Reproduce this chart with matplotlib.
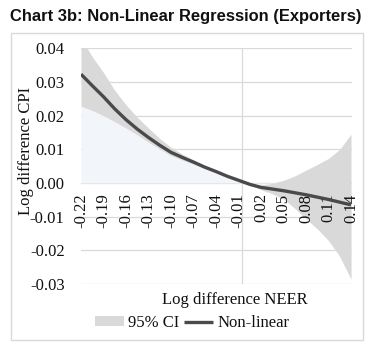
import matplotlib
matplotlib.use("Agg")
import matplotlib.pyplot as plt
from matplotlib.patches import Rectangle

# ---- data ----
neer = [-0.220, -0.205, -0.190, -0.175, -0.160, -0.145, -0.130, -0.115, -0.100,
        -0.085, -0.070, -0.055, -0.040, -0.025, -0.010, 0.005, 0.020, 0.035,
        0.050, 0.065, 0.080, 0.095, 0.110, 0.125, 0.140]
nonlinear = [0.0323, 0.0289, 0.0256, 0.0220, 0.0188, 0.0160, 0.0135, 0.0112, 0.0091,
             0.0076, 0.0062, 0.0047, 0.0034, 0.0020, 0.0008, -0.0004, -0.0013, -0.0018,
             -0.0023, -0.0029, -0.0035, -0.0042, -0.0049, -0.0057, -0.0065]
ci_upper = [0.0430, 0.0375, 0.0328, 0.0275, 0.0232, 0.0195, 0.0163, 0.0132, 0.0106,
            0.0086, 0.0068, 0.0051, 0.0037, 0.0022, 0.0009, -0.0002, -0.0007, -0.0001,
            0.0008, 0.0021, 0.0038, 0.0055, 0.0073, 0.0100, 0.0145]
ci_lower = [0.0228, 0.0215, 0.0200, 0.0182, 0.0163, 0.0143, 0.0121, 0.0101, 0.0081,
            0.0068, 0.0056, 0.0043, 0.0031, 0.0018, 0.0007, -0.0006, -0.0020, -0.0032,
            -0.0047, -0.0075, -0.0106, -0.0136, -0.0171, -0.0218, -0.0285]
x_ticks = [-0.22, -0.19, -0.16, -0.13, -0.10, -0.07, -0.04, -0.01, 0.02, 0.05, 0.08, 0.11, 0.14]
x_tick_labels = ["-0.22", "-0.19", "-0.16", "-0.13", "-0.10", "-0.07", "-0.04", "-0.01",
                 "0.02", "0.05", "0.08", "0.11", "0.14"]
y_ticks = [-0.03, -0.02, -0.01, 0.00, 0.01, 0.02, 0.03, 0.04]
y_tick_labels = ["-0.03", "-0.02", "-0.01", "0.00", "0.01", "0.02", "0.03", "0.04"]
axis_cross_x = -0.005

title = "Chart 3b: Non-Linear Regression (Exporters)"
y_label = "Log difference CPI"
x_label = "Log difference NEER"

W, H = 375, 351
fig = plt.figure(figsize=(W / 100, H / 100), dpi=100)
serif = ["Liberation Serif", "DejaVu Serif"]

ax = fig.add_axes([80.5 / W, 1 - 284 / H, (352 - 80.5) / W, (284 - 48.3) / H])
ax.set_xlim(-0.2207, 0.1413)
ax.set_ylim(-0.03, 0.04)
ax.set_axisbelow(False)

grid_c = "#D9D9D9"
for yv in y_ticks:
    ax.axhline(yv, color=grid_c, lw=0.9, zorder=0)
ax.axvline(axis_cross_x, color=grid_c, lw=0.9, zorder=0)

ax.fill_between(neer, 0, ci_lower, color="#F2F6FB", lw=0, zorder=1)
ax.fill_between(neer, ci_lower, ci_upper, color="#D9D9D9", lw=0, zorder=2, label="95% CI")
ax.plot(neer, nonlinear, color="#4A4A4A", lw=2.4, zorder=3, solid_capstyle="butt",
        label="Non-linear")

for s in ax.spines.values():
    s.set_visible(False)
ax.spines["bottom"].set_position(("data", 0))

ax.set_xticks(x_ticks)
ax.set_xticklabels(x_tick_labels, rotation=90, va="top", ha="center",
                   family=serif, fontsize=12, color="#111111")
ax.set_yticks(y_ticks)
ax.set_yticklabels(y_tick_labels, family=serif, fontsize=12, color="#111111")
ax.tick_params(axis="x", length=0, pad=7.5)
ax.tick_params(axis="y", length=0, pad=11.5)

fig.text(10 / W, 1 - 17 / H, title, family=["Liberation Sans", "DejaVu Sans"],
         fontweight="bold", fontsize=11.9, ha="left", va="center", color="#111111")
fig.text(26 / W, 1 - 151 / H, y_label, rotation=90, family=serif, fontsize=12,
         ha="center", va="center", color="#111111")
fig.text(235 / W, 1 - 300 / H, x_label, family=serif, fontsize=12,
         ha="center", va="center", color="#111111")

handles, labels = ax.get_legend_handles_labels()
fig.legend(handles, labels, loc="center", bbox_to_anchor=(192 / W, 1 - 323 / H),
           ncol=2, frameon=False, prop={"family": serif, "size": 12},
           handlelength=1.75, handleheight=0.5, handletextpad=0.25,
           columnspacing=0.25, borderpad=0, labelcolor="#111111")

fig.patches.append(Rectangle((11 / W, 1 - 340 / H), (363 - 11) / W, (340 - 33) / H,
                             transform=fig.transFigure, fill=False,
                             edgecolor="#D9D9D9", lw=1.0))

fig.savefig("out.png", dpi=100)
